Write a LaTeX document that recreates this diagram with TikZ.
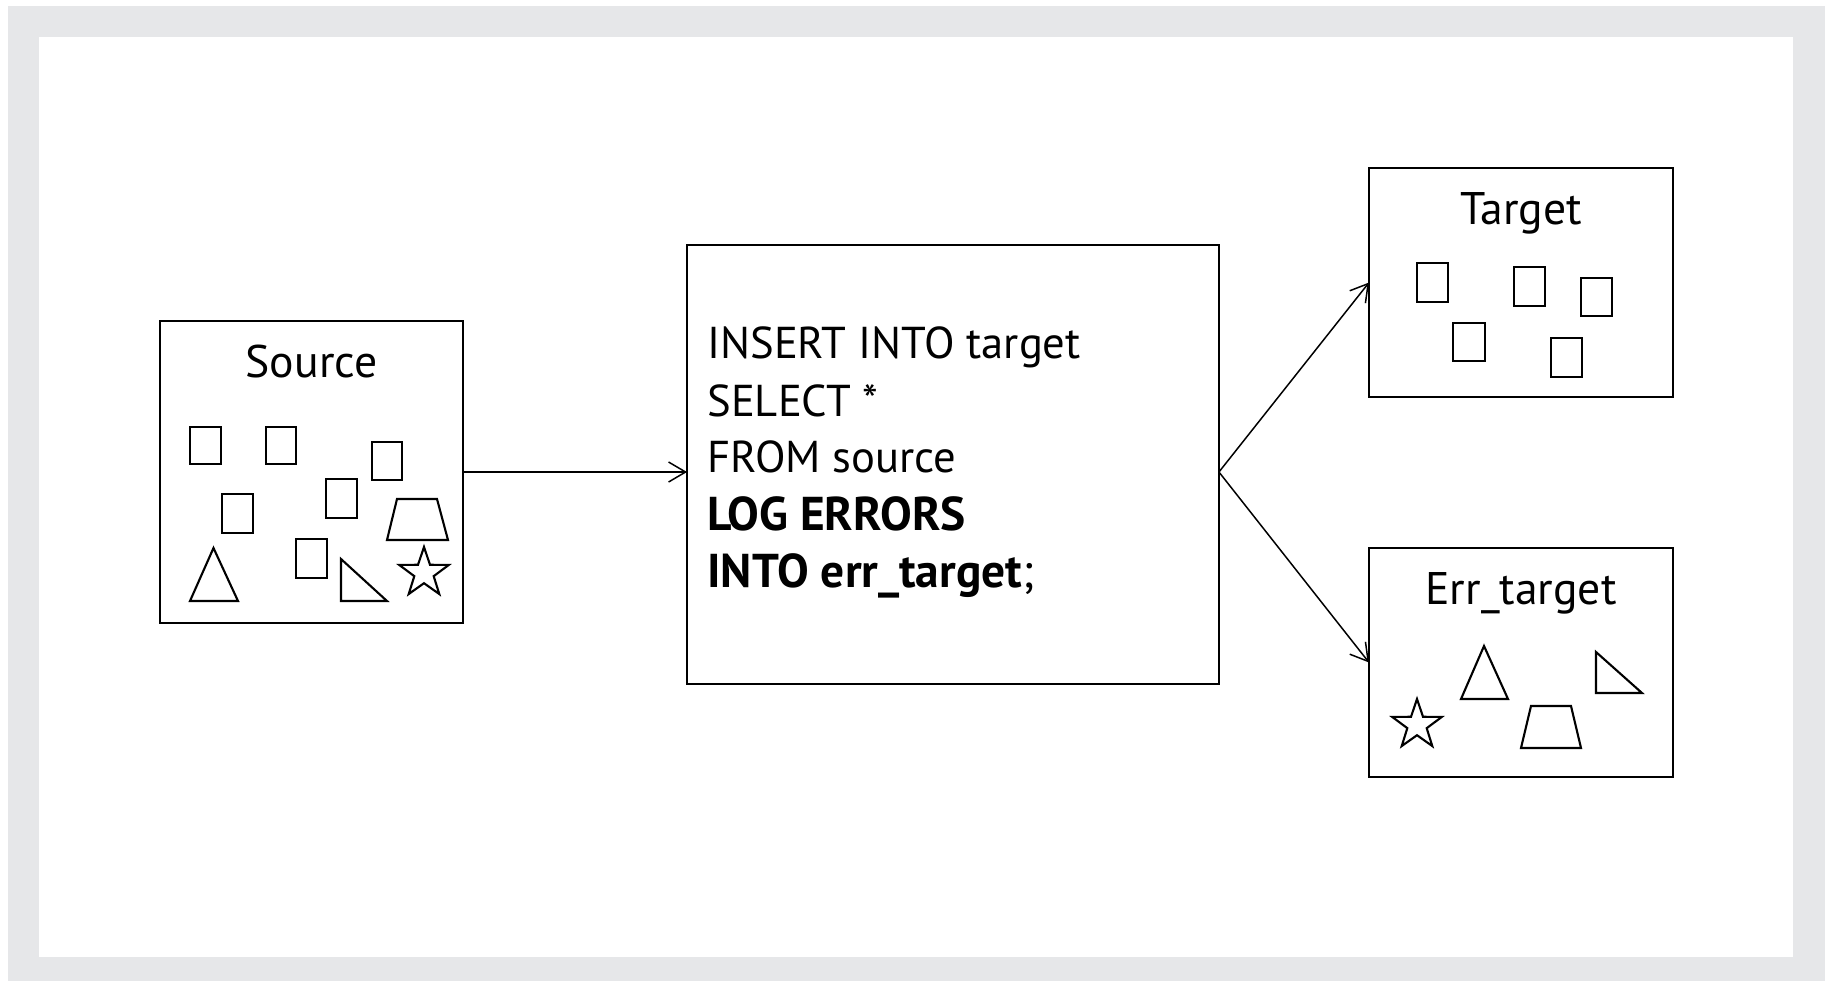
\documentclass[tikz,border=0pt]{standalone}
\usepackage{fontspec}
\setmainfont{PT Sans}
\usetikzlibrary{arrows.meta,shapes.geometric}
\definecolor{framegray}{RGB}{230,231,233}
\tikzset{
  box/.style={draw, line width=1.2pt, inner sep=0pt, outer sep=0pt, fill=white},
  item/.style={draw, line width=1.2pt, line join=miter},
  staritem/.style={draw, line width=1.2pt, star, star points=5, star point ratio=2.55, minimum size=1.04cm, inner sep=0pt},
  arr/.style={line width=0.85pt, -{Straight Barb[length=0.34cm, width=0.4cm, line width=0.85pt]}},
  lbl/.style={font=\fontsize{26}{30}\selectfont, inner sep=0pt, anchor=base},
  code/.style={font=\fontsize{25.4}{30}\selectfont, inner sep=0pt, anchor=base west},
  boldcode/.style={font=\fontsize{27}{30}\selectfont\bfseries, inner sep=0pt, anchor=base west},
}
\begin{document}
\begin{tikzpicture}[x=0.02cm, y=-0.02cm]
\useasboundingbox (0,0) rectangle (1829,981);
\fill[framegray] (8,6) rectangle (1825,981);
\fill[white] (39,37) rectangle (1793,957);

% boxes
\node[box, minimum width=6.06cm, minimum height=6.04cm] (src) at (311.5,472) {};
\node[box, minimum width=10.64cm, minimum height=8.78cm] (sql) at (953,464.5) {};
\node[box, minimum width=6.08cm, minimum height=4.58cm] (tgt) at (1521,282.5) {};
\node[box, minimum width=6.08cm, minimum height=4.58cm] (err) at (1521,662.5) {};

% labels
\node[lbl] (srclbl) at (311.5,377) {Source};
\node[lbl] (tgtlbl) at (1521,224) {Target};
\node[lbl] (errlbl) at (1521,604) {Err\_target};

% SQL text
\node[code] (l1) at (707,358) {INSERT INTO target};
\node[code] (l2) at (707,416) {SELECT *};
\node[code] (l3) at (707,472) {FROM source};
\node[boldcode] (l4) at (707,530) {LOG ERRORS};
\node[boldcode] (l5) at (707,587) {INTO err\_target\mdseries;};

% connectors
\coordinate (fork) at (sql.east |- src.east);
\draw[arr] (src.east) -- (src.east -| sql.west);
\draw[arr] (fork) -- (tgt.west);
\draw[arr] (fork) -- (err.west);

% source items
\draw[item] (190,427) rectangle (221,464);
\draw[item] (266,427) rectangle (296,464);
\draw[item] (372,442) rectangle (402,480);
\draw[item] (222,494) rectangle (253,533);
\draw[item] (326,479) rectangle (357,518);
\draw[item] (296,539) rectangle (327,578);
\draw[item] (397,499) -- (437,499) -- (448,540) -- (387,540) -- cycle;
\draw[item] (213.5,548) -- (238,601) -- (190,601) -- cycle;
\draw[item] (341,559) -- (387,601) -- (341,601) -- cycle;
\node[staritem] (srcstar) at (424,573) {};

% target items
\draw[item] (1417,263) rectangle (1448,302);
\draw[item] (1514,267) rectangle (1545,306);
\draw[item] (1581,278) rectangle (1612,316);
\draw[item] (1453,323) rectangle (1485,361);
\draw[item] (1551,338) rectangle (1582,377);

% err_target items
\draw[item] (1484,646) -- (1508,699) -- (1461,699) -- cycle;
\draw[item] (1596,652) -- (1642,693) -- (1596,693) -- cycle;
\draw[item] (1531,706) -- (1571,706) -- (1581,748) -- (1521,748) -- cycle;
\node[staritem] (errstar) at (1417,725) {};
\end{tikzpicture}
\end{document}
